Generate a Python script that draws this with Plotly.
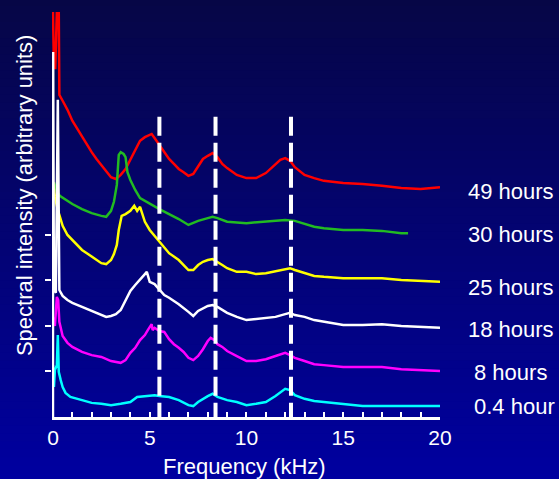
import plotly.graph_objects as go

# ---------------- data (frequency in kHz, intensity in arbitrary units, offset traces) -------------
freq_49h = [0, 0.05, 0.12, 0.2, 0.3, 0.33, 0.5, 0.75, 1.0, 1.25, 1.5, 1.75, 2.0, 2.25, 2.5, 2.75, 3.0,
            3.25, 3.5, 3.75, 4.0, 4.25, 4.5, 4.75, 5.0, 5.1, 5.25, 5.5, 5.75, 6.0, 6.25, 6.5, 6.75, 7.0,
            7.25, 7.5, 7.75, 8.0, 8.25, 8.5, 8.75, 9.0, 9.5, 10, 10.5, 11, 11.5, 11.75, 12, 12.25, 12.5,
            13, 13.5, 14, 15, 16, 17, 18, 19, 20]
int_49h = [8.9, 7.67, 7.67, 8.9, 8.9, 7.08, 6.95, 6.75, 6.51, 6.33, 6.18, 6.0, 5.82, 5.67, 5.54, 5.41, 5.27,
           5.23, 5.32, 5.45, 5.65, 5.87, 6.07, 6.15, 6.20, 6.22, 6.13, 5.98, 5.82, 5.67, 5.56, 5.45, 5.38, 5.30,
           5.34, 5.51, 5.67, 5.74, 5.80, 5.71, 5.56, 5.47, 5.32, 5.25, 5.25, 5.36, 5.54, 5.65, 5.69, 5.63, 5.49,
           5.32, 5.25, 5.19, 5.14, 5.12, 5.08, 5.03, 5.01, 5.05]

freq_30h = [0.05, 0.2, 0.35, 0.6, 1.0, 1.5, 2.0, 2.5, 2.75, 3.0, 3.15, 3.3, 3.4, 3.5, 3.65, 3.75, 3.85, 4.0,
            4.25, 4.5, 4.75, 5.0, 5.5, 6.0, 6.5, 7.0, 7.5, 8.0, 8.25, 8.5, 9.0, 10, 11, 12, 12.5, 13, 13.5,
            14, 15, 16, 17, 18, 18.35]
int_30h = [5.16, 4.95, 4.86, 4.79, 4.68, 4.57, 4.48, 4.42, 4.40, 4.53, 4.73, 5.10, 5.76, 5.82, 5.78, 5.71, 5.38,
           5.21, 4.99, 4.81, 4.75, 4.68, 4.57, 4.46, 4.35, 4.22, 4.31, 4.37, 4.40, 4.37, 4.29, 4.26, 4.29, 4.33,
           4.31, 4.24, 4.18, 4.15, 4.11, 4.11, 4.09, 4.04, 4.04]

freq_25h = [0.0, 0.1, 0.25, 0.5, 0.75, 1.0, 1.25, 1.5, 1.75, 2.0, 2.25, 2.5, 2.75, 3.0, 3.15, 3.3, 3.4, 3.55,
            3.75, 4.0, 4.2, 4.35, 4.5, 4.75, 5.0, 5.25, 5.5, 5.75, 6.0, 6.5, 7.0, 7.25, 7.5, 7.75, 8.0, 8.25,
            8.5, 8.75, 9.0, 9.5, 10, 10.5, 11, 11.5, 12, 12.25, 12.5, 13, 13.5, 14, 15, 16, 17, 18, 19, 20]
int_25h = [5.16, 4.84, 4.55, 4.20, 4.0, 3.89, 3.78, 3.67, 3.60, 3.52, 3.45, 3.38, 3.36, 3.45, 3.58, 3.78, 4.11,
           4.42, 4.46, 4.53, 4.64, 4.53, 4.62, 4.29, 4.11, 3.98, 3.85, 3.71, 3.60, 3.45, 3.23, 3.23, 3.34, 3.41,
           3.45, 3.47, 3.41, 3.34, 3.27, 3.19, 3.19, 3.14, 3.16, 3.21, 3.25, 3.27, 3.23, 3.16, 3.10, 3.08, 3.05,
           3.05, 3.05, 3.01, 2.99, 2.97]

freq_18h = [0.0, 0.05, 0.15, 0.25, 0.33, 0.5, 0.75, 1.0, 1.5, 2.0, 2.5, 2.75, 3.0, 3.25, 3.5, 3.75, 4.0, 4.25,
            4.5, 4.75, 4.85, 5.0, 5.25, 5.5, 5.75, 6.0, 6.5, 7.0, 7.25, 7.5, 8.0, 8.25, 8.5, 9.0, 9.5, 10, 10.5,
            11, 11.5, 12, 12.25, 12.5, 13, 13.5, 14, 15, 16, 17, 18, 19, 20]
int_18h = [8.02, 2.79, 2.73, 6.97, 2.79, 2.66, 2.57, 2.51, 2.42, 2.33, 2.24, 2.20, 2.22, 2.26, 2.35, 2.55, 2.77,
           2.90, 3.01, 3.14, 3.19, 2.97, 2.92, 2.81, 2.68, 2.62, 2.48, 2.31, 2.22, 2.33, 2.44, 2.46, 2.42, 2.29,
           2.20, 2.13, 2.15, 2.18, 2.20, 2.26, 2.29, 2.24, 2.20, 2.13, 2.09, 2.02, 2.02, 2.04, 2.00, 1.98, 1.96]

freq_8h = [0.0, 0.1, 0.2, 0.27, 0.33, 0.4, 0.5, 0.75, 1.0, 1.5, 2.0, 2.5, 3.0, 3.5, 3.75, 4.0, 4.25, 4.5, 4.75,
           4.9, 5.0, 5.1, 5.15, 5.25, 5.5, 5.75, 6.0, 6.25, 6.5, 6.75, 7.0, 7.25, 7.5, 7.75, 8.0, 8.15, 8.35,
           8.5, 8.75, 9.0, 9.5, 10, 10.5, 11, 11.5, 11.75, 12, 12.25, 12.5, 13, 13.5, 14, 15, 16, 17, 18, 19, 20]
int_8h = [2.18, 2.0, 2.64, 2.57, 2.09, 1.96, 1.78, 1.63, 1.54, 1.43, 1.36, 1.32, 1.23, 1.19, 1.25, 1.41, 1.52,
          1.69, 1.80, 1.91, 1.98, 2.04, 1.91, 1.96, 1.89, 1.87, 1.71, 1.60, 1.52, 1.43, 1.30, 1.25, 1.34, 1.49,
          1.67, 1.74, 1.69, 1.60, 1.54, 1.45, 1.34, 1.23, 1.23, 1.27, 1.34, 1.38, 1.41, 1.36, 1.30, 1.23, 1.16,
          1.14, 1.10, 1.10, 1.10, 1.05, 1.03, 1.01]

freq_04h = [0.0, 0.05, 0.1, 0.2, 0.25, 0.3, 0.4, 0.5, 0.65, 0.9, 1.5, 2.0, 2.5, 3.0, 3.5, 4.0, 4.35, 4.75, 5.25,
            5.5, 6.0, 6.5, 7.0, 7.25, 7.5, 8.0, 8.25, 8.5, 9.0, 9.5, 10, 10.5, 11, 11.5, 11.75, 12, 12.25, 12.5,
            13, 13.5, 14, 15, 16, 17, 18, 19, 20]
int_04h = [1.14, 0.66, 1.03, 1.14, 1.80, 0.99, 0.81, 0.66, 0.53, 0.44, 0.37, 0.31, 0.29, 0.26, 0.29, 0.33, 0.44,
           0.46, 0.48, 0.46, 0.44, 0.37, 0.26, 0.24, 0.33, 0.46, 0.51, 0.44, 0.37, 0.33, 0.26, 0.29, 0.33, 0.46,
           0.55, 0.62, 0.59, 0.48, 0.40, 0.35, 0.33, 0.29, 0.24, 0.24, 0.24, 0.24, 0.24]

series_names = ["49 hours", "30 hours", "25 hours", "18 hours", "8 hours", "0.4 hour"]
series_freqs = [freq_49h, freq_30h, freq_25h, freq_18h, freq_8h, freq_04h]
series_vals = [int_49h, int_30h, int_25h, int_18h, int_8h, int_04h]
series_colors = ["#ff0000", "#22bb22", "#ffff00", "#ffffff", "#ff00ff", "#00ffff"]
label_levels = [4.95, 4.02, 2.84, 1.93, 0.97, 0.22]
label_xpaper = [1.067, 1.067, 1.067, 1.067, 1.082, 1.082]

peak_freqs = [5.5, 8.4, 12.3]
x_tickvals = [0, 5, 10, 15, 20]
y_tickvals = [1, 2, 3, 4]

FONT = "Arial, Liberation Sans, sans-serif"

fig = go.Figure()

# background gradient (dark navy at top -> brighter blue at bottom)
n_bands = 60
y_top, y_bot = 1.035, -0.16
for i in range(n_bands):
    t = i / (n_bands - 1)
    r = round(6 * (1 - t))
    g = round(6 * (1 - t))
    b = round(70 + (160 - 70) * t)
    y1 = y_top - (y_top - y_bot) * i / n_bands
    y0 = y_top - (y_top - y_bot) * (i + 1) / n_bands - 0.002
    fig.add_shape(type="rect", xref="paper", yref="paper", x0=-0.2, x1=1.35, y0=y0, y1=y1,
                  fillcolor=f"rgb({r},{g},{b})", line_width=0, layer="below")

for name, fx, fy, col in zip(series_names, series_freqs, series_vals, series_colors):
    fig.add_trace(go.Scatter(x=fx, y=fy, mode="lines", name=name,
                             line=dict(color=col, width=2.5), showlegend=False, hoverinfo="skip"))

# dashed marker lines
for f in peak_freqs:
    fig.add_shape(type="line", xref="x", yref="y", x0=f, x1=f, y0=6.6, y1=0,
                  line=dict(color="white", width=4, dash="19px,7px"))

# y axis line
fig.add_shape(type="line", xref="x", yref="y", x0=0, x1=0, y0=0, y1=8.02,
              line=dict(color="white", width=2.5))

# right-hand labels
for name, lv, lx in zip(series_names, label_levels, label_xpaper):
    fig.add_annotation(x=lx, y=lv, xref="paper", yref="y", text=name, showarrow=False,
                       xanchor="left", yanchor="middle",
                       font=dict(family=FONT, size=22, color="white"))

fig.add_annotation(x=0.497, y=-0.123, xref="paper", yref="paper", text="Frequency (kHz)",
                   showarrow=False, xanchor="center", yanchor="middle",
                   font=dict(family=FONT, size=22, color="white"))
fig.add_annotation(x=-0.072, y=0.548, xref="paper", yref="paper",
                   text="Spectral intensity (arbitrary units)", textangle=-90,
                   showarrow=False, xanchor="center", yanchor="middle",
                   font=dict(family=FONT, size=22, color="white"))

fig.update_layout(
    width=559, height=479,
    margin=dict(l=52, r=119, t=12, b=62),
    paper_bgcolor="rgb(0,0,110)",
    plot_bgcolor="rgba(0,0,0,0)",
    font=dict(family=FONT, color="white"),
    xaxis=dict(range=[-0.05, 20], tickvals=x_tickvals, ticks="inside", ticklen=5, tickwidth=2,
               tickcolor="white", showline=True, linecolor="white", linewidth=2.5, mirror=False,
               showgrid=False, zeroline=False, tickfont=dict(family=FONT, size=21, color="white"),
               minor=dict(dtick=1, ticks="inside", ticklen=5, tickwidth=2, tickcolor="white",
                          showgrid=False)),
    yaxis=dict(range=[0, 8.9], tickvals=y_tickvals, ticks="outside", ticklen=6, tickwidth=2,
               tickcolor="white", showticklabels=False, showline=False, showgrid=False,
               zeroline=False),
)

fig.write_html("out.html", config={"displayModeBar": False},
               post_script="document.body.style.margin='0';document.body.style.overflow='hidden';")
